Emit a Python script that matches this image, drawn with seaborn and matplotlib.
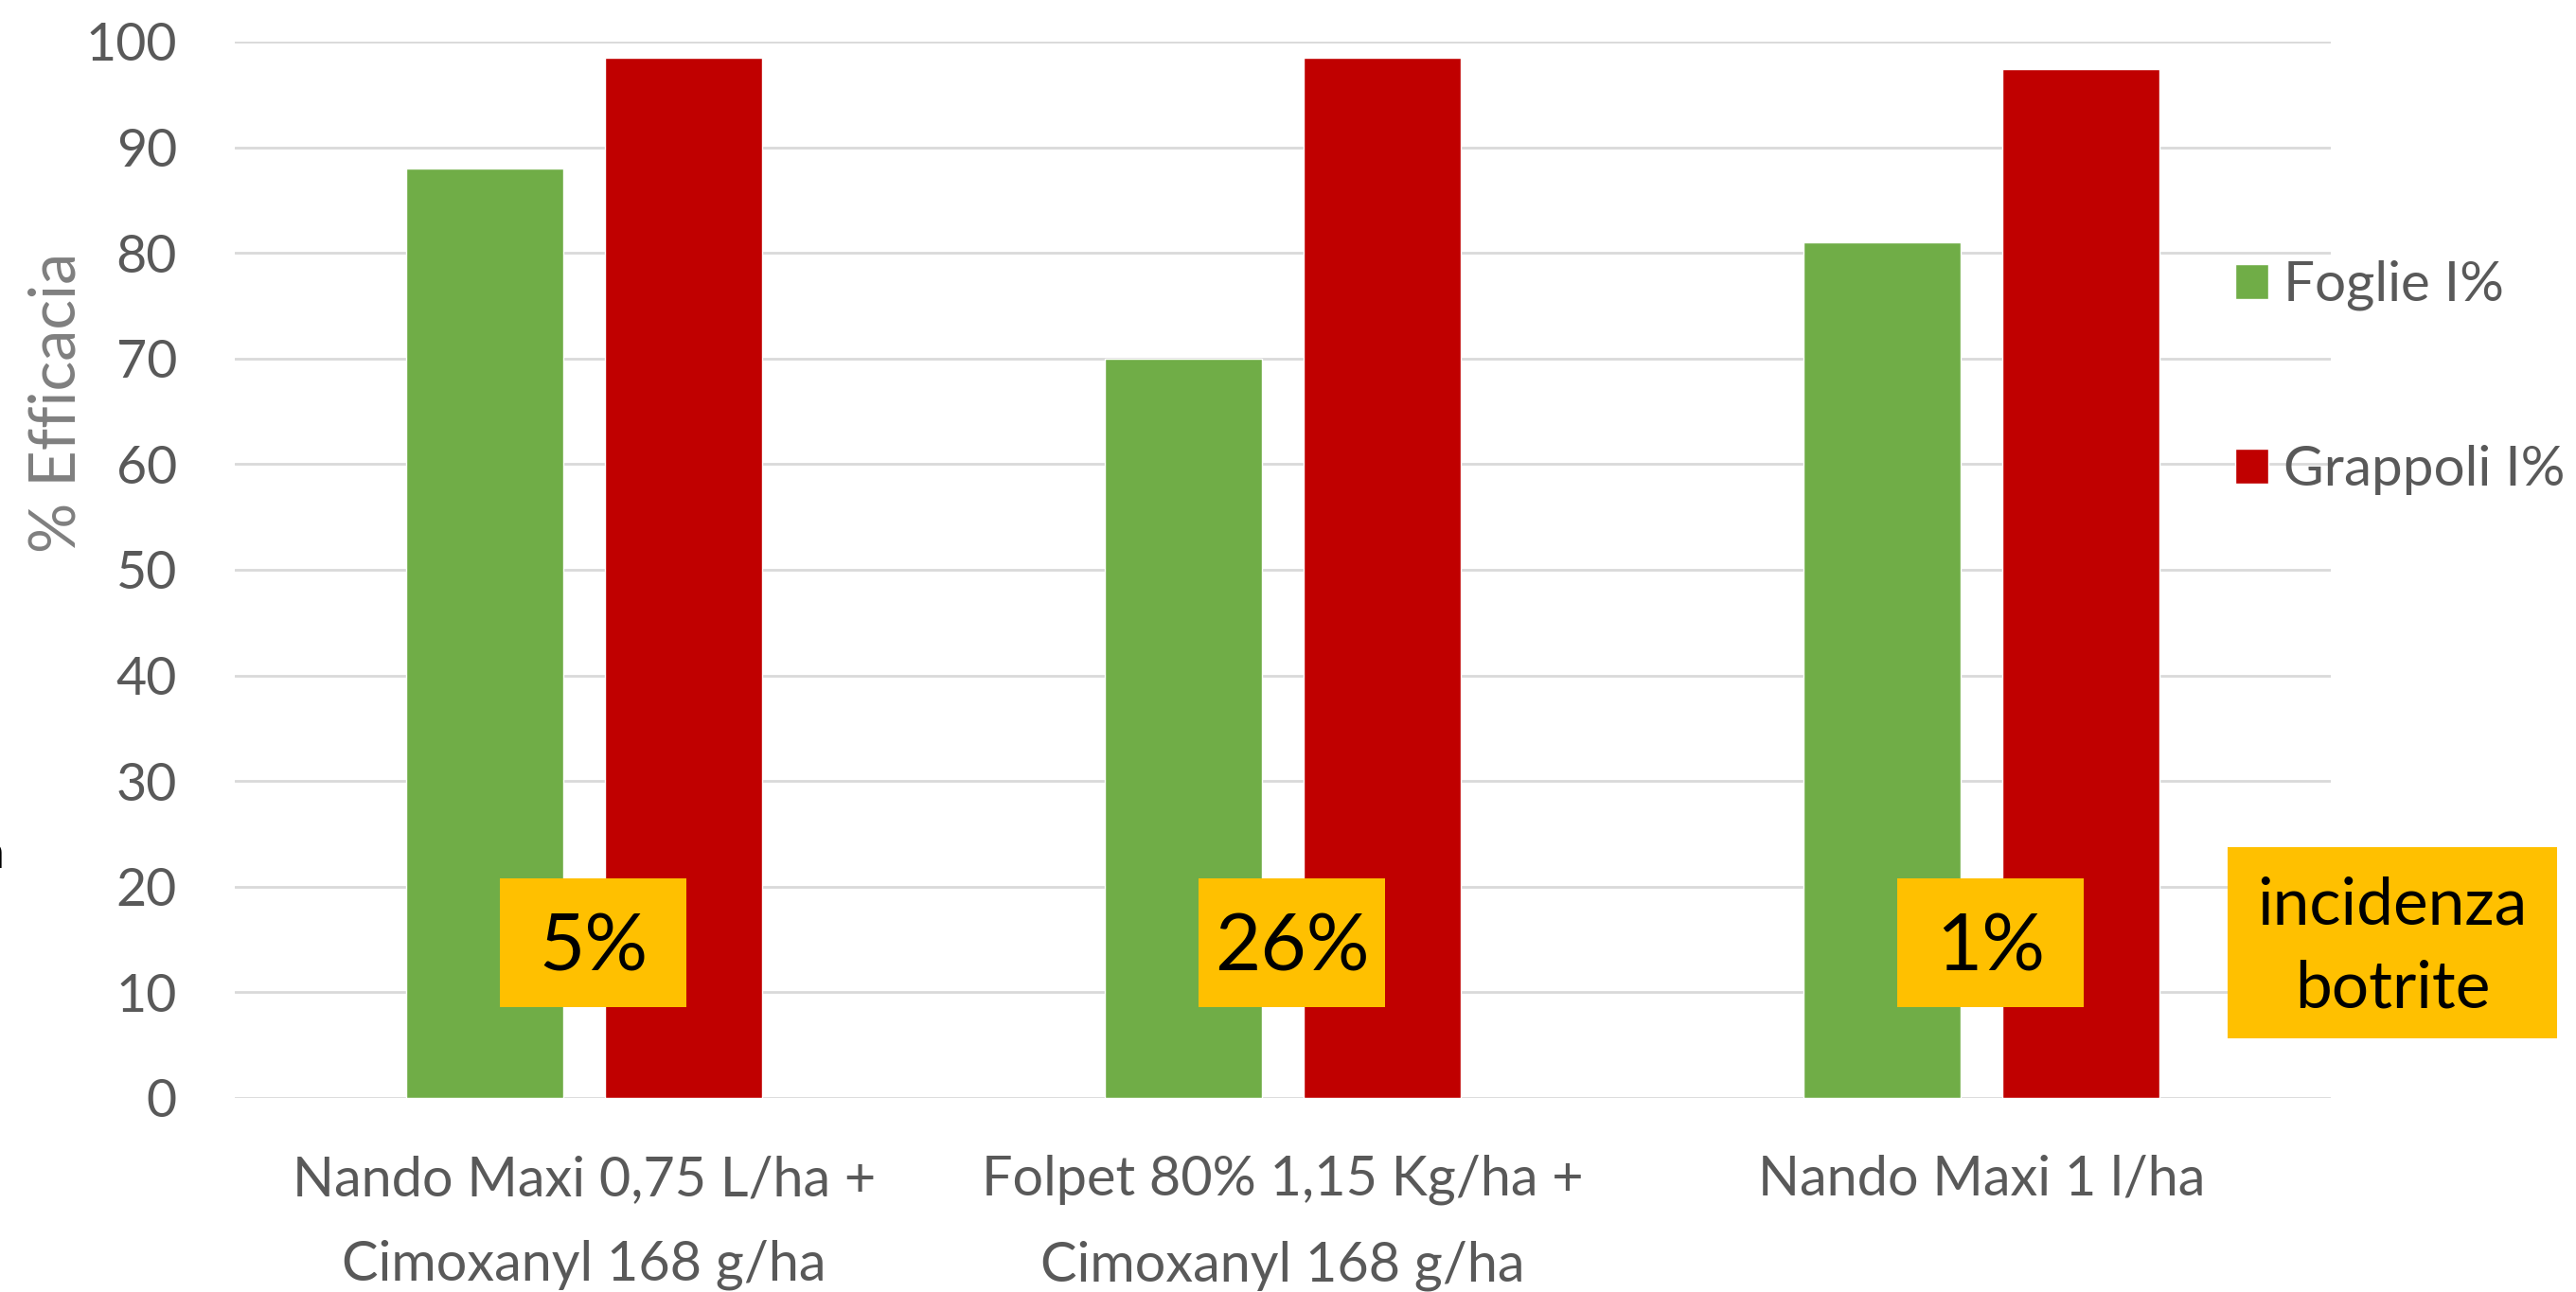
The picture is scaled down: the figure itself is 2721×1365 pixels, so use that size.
import matplotlib
matplotlib.use("Agg")
import matplotlib.pyplot as plt
from matplotlib.patches import Rectangle
import seaborn as sns
import pandas as pd

# ---- data ----
categories = [
    "Nando Maxi 0,75 L/ha +\nCimoxanyl 168 g/ha",
    "Folpet 80% 1,15 Kg/ha +\nCimoxanyl 168 g/ha",
    "Nando Maxi 1 l/ha",
]
series_names = ["Foglie I%", "Grappoli I%"]
foglie = [88, 70, 81]
grappoli = [98.5, 98.5, 97.4]
incidenza = ["5%", "26%", "1%"]
y_ticks = [0, 10, 20, 30, 40, 50, 60, 70, 80, 90, 100]
y_label = "% Efficacia"
incidenza_label = "incidenza\nbotrite"

GREEN = "#70AD47"
RED = "#C00000"
YELLOW = "#FFC000"
TICK_GREY = "#595959"
LABEL_GREY = "#7F7F7F"
GRID = "#D9D9D9"

df = pd.DataFrame({
    "Trattamento": categories * 2,
    "Serie": [series_names[0]] * len(categories) + [series_names[1]] * len(categories),
    "Efficacia": foglie + grappoli,
})

sns.set_theme(style="white")
plt.rcParams["font.family"] = ["Lato", "DejaVu Sans"]

W, H = 2721, 1365
fig = plt.figure(figsize=(W / 100, H / 100), dpi=100)
ax = fig.add_axes([248 / W, 1 - 1160 / H, (2462 - 248) / W, (1160 - 44) / H])

sns.barplot(data=df, x="Trattamento", y="Efficacia", hue="Serie",
            palette=[GREEN, RED], saturation=1, width=0.569, gap=0.21,
            ax=ax, zorder=2)

ax.set_ylim(0, 100)
ax.set_xlim(-0.5, len(categories) - 0.5)
ax.set_yticks(y_ticks)
ax.yaxis.grid(True, color=GRID, linewidth=2.0, zorder=0)
ax.set_axisbelow(True)
for s in ax.spines.values():
    s.set_visible(False)

ax.tick_params(axis="y", length=0, pad=44, labelsize=40, labelcolor=TICK_GREY)
ax.tick_params(axis="x", length=0, pad=43, labelsize=41.5, labelcolor=TICK_GREY)
for lbl in ax.get_xticklabels():
    lbl.set_linespacing(1.86)

ax.set_xlabel("")
ax.set_ylabel(y_label, fontsize=48, color=LABEL_GREY)
ax.yaxis.label.set_va("center")
ax.yaxis.set_label_coords((61 - 248) / (2462 - 248), (1160 - 425) / (1160 - 44))

# legend
handles, labels = ax.get_legend_handles_labels()
if ax.get_legend() is not None:
    ax.get_legend().remove()
leg = fig.legend(handles, labels, loc="upper left",
                 bbox_to_anchor=(2361 / W, 1 - 275 / H),
                 frameon=False, fontsize=42, labelcolor=TICK_GREY,
                 handlelength=0.6, handleheight=0.6, handletextpad=0.28,
                 labelspacing=2.42, borderpad=0, borderaxespad=0)

# incidence boxes inside axes
box_w = 0.267
box_off = 0.013
box_y0, box_y1 = 8.6, 20.8
for i, txt in enumerate(incidenza):
    ax.add_patch(Rectangle((i + box_off - box_w / 2, box_y0), box_w, box_y1 - box_y0,
                           facecolor=YELLOW, edgecolor="none", zorder=4))
    ax.text(i + box_off, (box_y0 + box_y1) / 2 - 0.6, txt, ha="center", va="center",
            fontsize=60, color="black", zorder=5)

# side box "incidenza botrite"
fig.add_artist(Rectangle((2353 / W, 1 - 1097 / H), (2701 - 2353) / W, (1097 - 895) / H,
                         transform=fig.transFigure, facecolor=YELLOW, edgecolor="none"))
fig.text(2527 / W, 1 - 1001 / H, incidenza_label, ha="center", va="center",
         fontsize=50, color="black", linespacing=1.48)

# clipped glyph fragment at the left edge (present in the reference)
fig.text(4 / W, 1 - 917 / H, "a", ha="right", va="baseline", fontsize=36, color="black")

fig.savefig("out.png", dpi=100)
